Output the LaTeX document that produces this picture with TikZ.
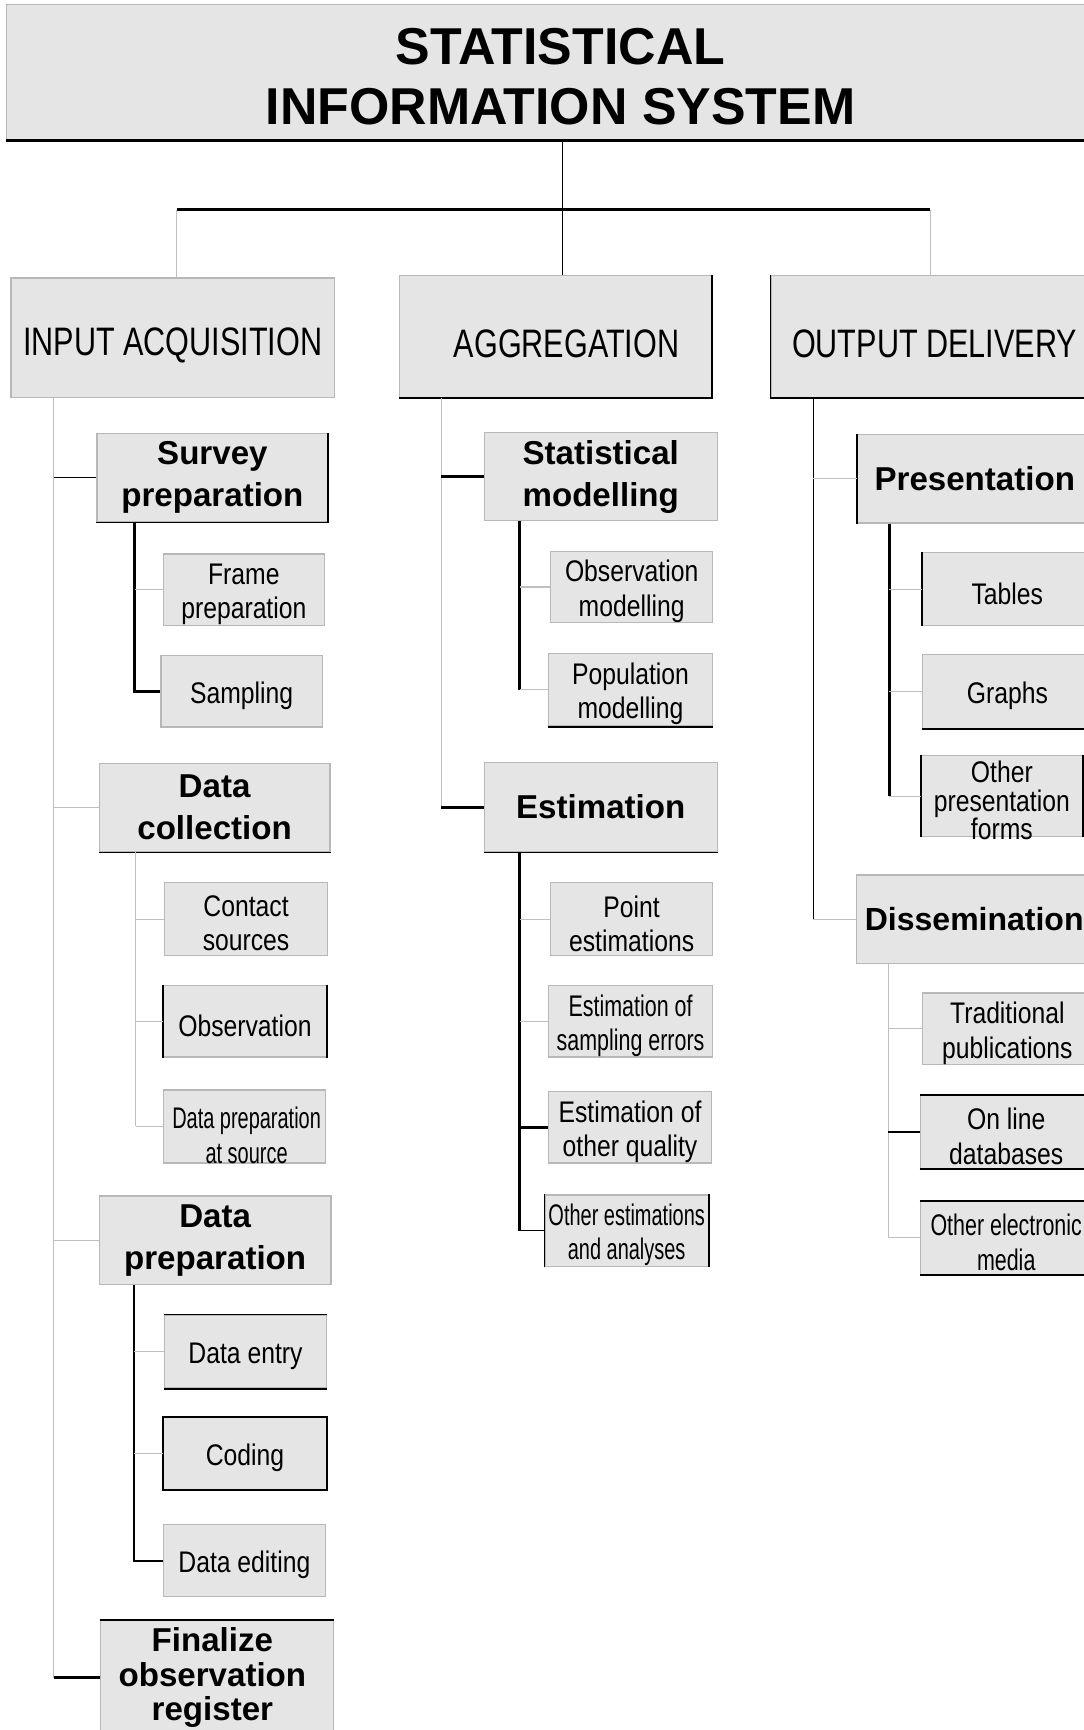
\documentclass[tikz,border=0pt]{standalone}
\usepackage{fontspec}
\setmainfont{Liberation Sans}
\newfontfamily\condA[FakeStretch=0.83]{Liberation Sans}
\newfontfamily\condB[FakeStretch=0.72]{Liberation Sans}
\newfontfamily\condC[FakeStretch=0.67]{Liberation Sans}
\newfontfamily\condH[FakeStretch=0.77]{Liberation Sans}
\usetikzlibrary{fit}
\definecolor{boxfill}{gray}{0.9}
\definecolor{boxline}{gray}{0.72}
\definecolor{linegray}{gray}{0.75}
\tikzset{box/.style={draw=boxline, fill=boxfill, inner sep=0pt, line width=0.6pt},
 edge/.style={draw=black, line width=0.8pt},
 gthin/.style={draw=linegray, line width=0.5pt},
 bthin/.style={draw=black, line width=0.5pt},
 bmed/.style={draw=black, line width=0.9pt},
 bthick/.style={draw=black, line width=1.4pt},
 titletxt/.style={font=\fontsize{23.5}{27}\selectfont\bfseries, align=center, yshift=-2pt},
 headtxt/.style={font=\condH\fontsize{18}{20}\selectfont, yshift=-3.5pt},
 subtxt/.style={font=\fontsize{15}{19}\selectfont\bfseries, align=center},
 leaftxt/.style={font=\condA\fontsize{13.5}{15.5}\selectfont, align=center, yshift=-2pt},
 leafnar/.style={font=\condB\fontsize{13.5}{15.5}\selectfont, align=center, yshift=-2pt},
}

\begin{document}
\begin{tikzpicture}[x=0.5pt,y=-0.5pt]
\useasboundingbox (0,0) rectangle (982,1568);

% title and the three main parts
\node[box, fit={(6,4) (1010,127)}, label={[titletxt]center:{STATISTICAL\\INFORMATION SYSTEM}}] (sis) {};
\node[box, fit={(10,252) (303,360)}, label={[headtxt]center:INPUT ACQUISITION}] (inp) {};
\node[box, fit={(362,250) (645,360)}, label={[headtxt, xshift=5pt]center:AGGREGATION}] (agg) {};
\node[box, fit={(699,250) (995,360)}, label={[headtxt]center:OUTPUT DELIVERY}] (out) {};

% input acquisition
\node[box, fit={(88,393) (297,473)}, label={[subtxt]center:{Survey\\preparation}}] (survey) {};
\node[box, fit={(148,502) (294,567)}, label={[leaftxt]center:{Frame\\preparation}}] (frame) {};
\node[box, fit={(146,594) (292,659)}, label={[leaftxt]center:Sampling}] (sampl) {};
\node[box, fit={(90,692) (299,772)}, label={[subtxt]center:{Data\\collection}}] (dcoll) {};
\node[box, fit={(149,800) (297,866)}, label={[leaftxt]center:{Contact\\sources}}] (contact) {};
\node[box, fit={(148,893) (296,958)}, label={[leaftxt]center:Observation}] (observ) {};
\node[box, fit={(148,988) (295,1054)}, label={[leafnar, font=\condC\fontsize{13.5}{15.5}\selectfont, yshift=-2pt, xshift=1pt]center:{Data preparation\\at source}}] (srcprep) {};
\node[box, fit={(90,1084) (300,1164)}, label={[subtxt]center:{Data\\preparation}}] (dprep) {};
\node[box, fit={(149,1192) (296,1258)}, label={[leaftxt]center:Data entry}] (dentry) {};
\node[box, fit={(148,1285) (296,1350)}, label={[leaftxt]center:Coding}] (coding) {};
\node[box, fit={(148,1382) (295,1447)}, label={[leaftxt]center:Data editing}] (dedit) {};
\node[box, fit={(91,1469) (302,1572)}, label={[subtxt, font=\fontsize{15}{15.5}\selectfont\bfseries, xshift=-2pt]center:{Finalize\\observation\\register}}] (final) {};

% aggregation
\node[box, fit={(439,392) (650,472)}, label={[subtxt]center:{Statistical\\modelling}}] (statmod) {};
\node[box, fit={(499,500) (646,564)}, label={[leaftxt]center:{Observation\\modelling}}] (obsmod) {};
\node[box, fit={(497,592) (646,658)}, label={[leaftxt]center:{Population\\modelling}}] (popmod) {};
\node[box, fit={(439,691) (650,772)}, label={[subtxt]center:Estimation}] (estim) {};
\node[box, fit={(499,800) (646,866)}, label={[leaftxt]center:{Point\\estimations}}] (pointest) {};
\node[box, fit={(497,893) (646,958)}, label={[leafnar]center:{Estimation of\\sampling errors}}] (samperr) {};
\node[box, fit={(497,989) (645,1054)}, label={[leaftxt]center:{Estimation of\\other quality}}] (othqual) {};
\node[box, fit={(494,1083) (642,1148)}, label={[leafnar, font=\condC\fontsize{13.5}{15.5}\selectfont]center:{Other estimations\\and analyses}}] (othest) {};

% output delivery
\node[box, fit={(777,394) (990,474)}, label={[subtxt]center:Presentation}] (present) {};
\node[box, fit={(836,501) (990,567)}, label={[leaftxt]center:Tables}] (tables) {};
\node[box, fit={(836,593) (990,660)}, label={[leaftxt]center:Graphs}] (graphs) {};
\node[box, fit={(835,685) (981,758)}, label={[leaftxt, font=\condA\fontsize{13.5}{13}\selectfont]center:{Other\\presentation\\forms}}] (othpres) {};
\node[box, fit={(776,793) (990,873)}, label={[subtxt, font=\fontsize{14.5}{17}\selectfont\bfseries]center:Dissemination}] (dissem) {};
\node[box, fit={(836,900) (990,965)}, label={[leaftxt]center:{Traditional\\publications}}] (tradpub) {};
\node[box, fit={(834,993) (990,1059)}, label={[leaftxt]center:{On line\\databases}}] (online) {};
\node[box, fit={(834,1089) (990,1155)}, label={[leafnar]center:{Other electronic\\media}}] (othelec) {};

% dark box sides
\draw[edge, line width=1.2pt] (sis.south west) -- (sis.south east);
\draw[edge] (agg.north east) -- (agg.south east) -- (agg.south west);
\draw[edge] (out.north west) -- (out.south west) -- (out.south east);
\draw[edge] (survey.north east) -- (survey.south east) -- (survey.south west);
\draw[edge] (dcoll.south west) -- (dcoll.south east);
\draw[edge] (observ.north west) -- (observ.south west) (observ.north east) -- (observ.south east);
\draw[edge] (dentry.north west) -- (dentry.north east) (dentry.south west) -- (dentry.south east);
\draw[edge] (coding.north west) rectangle (coding.south east);
\draw[edge] (final.north west) -- (final.north east);
\draw[edge] (popmod.south west) -- (popmod.south east);
\draw[edge] (estim.south west) -- (estim.south east);
\draw[edge] (othest.north west) -- (othest.south west) (othest.north east) -- (othest.south east);
\draw[edge] (present.north west) -- (present.south west);
\draw[edge] (tables.north west) -- (tables.south west);
\draw[edge] (graphs.south west) -- (graphs.south east);
\draw[edge] (othpres.north west) -- (othpres.south west) (othpres.north east) -- (othpres.south east);
\draw[edge] (online.north west) -- (online.north east) (online.south west) -- (online.south east);
\draw[edge] (othelec.north west) -- (othelec.north east) (othelec.south west) -- (othelec.south east);

% top connectors
\coordinate (hub) at (510,190);
\coordinate (barL) at (160,190);
\coordinate (barR) at (843,190);
\draw[bthin] (sis.south -| hub) -- (hub |- agg.north);
\draw[bthick] (barL) -- (barR);
\draw[gthin] (barL) -- (barL |- inp.north);
\draw[gthin] (barR) -- (barR |- out.north);

% spines
\coordinate (c1) at (48.5,0);
\coordinate (c1a) at (122,0);
\coordinate (c1b) at (123,0);
\coordinate (c1c) at (121.5,0);
\coordinate (c2) at (400,0);
\coordinate (c2a) at (471,0);
\coordinate (c3) at (737,0);
\coordinate (c3a) at (806,0);
\coordinate (c3b) at (805,0);

\draw[gthin] (inp.south -| c1) -- (final.west -| c1);
\foreach \n/\s in {survey/bthin, dcoll/gthin, dprep/gthin, final/bthick}
  \draw[\s] (\n.west -| c1) -- (\n.west);
\draw[bthick] (survey.south -| c1a) -- (sampl.west -| c1a) -- (sampl.west);
\draw[gthin] (frame.west -| c1a) -- (frame.west);
\draw[gthin] (dcoll.south -| c1b) -- (srcprep.west -| c1b);
\foreach \n in {contact, observ, srcprep}
  \draw[gthin] (\n.west -| c1b) -- (\n.west);
\draw[bmed] (dprep.south -| c1c) -- (dedit.west -| c1c) -- (dedit.west);
\foreach \n in {dentry, coding}
  \draw[gthin] (\n.west -| c1c) -- (\n.west);

\draw[gthin] (agg.south -| c2) -- (estim.west -| c2);
\foreach \n in {statmod, estim}
  \draw[bthick] (\n.west -| c2) -- (\n.west);
\draw[bthick] (statmod.south -| c2a) -- (popmod.west -| c2a);
\foreach \n in {obsmod, popmod}
  \draw[gthin] (\n.west -| c2a) -- (\n.west);
\draw[bthick] (estim.south -| c2a) -- (othest.west -| c2a);
\foreach \n/\s in {pointest/gthin, samperr/gthin, othqual/bthick, othest/bthin}
  \draw[\s] (\n.west -| c2a) -- (\n.west);

\draw[bthin] (out.south -| c3) -- (dissem.west -| c3);
\foreach \n in {present, dissem}
  \draw[gthin] (\n.west -| c3) -- (\n.west);
\draw[bthick] (present.south -| c3a) -- (othpres.west -| c3a);
\foreach \n in {tables, graphs, othpres}
  \draw[gthin] (\n.west -| c3a) -- (\n.west);
\draw[gthin] (dissem.south -| c3b) -- (othelec.west -| c3b);
\foreach \n/\s in {tradpub/gthin, online/bthin, othelec/gthin}
  \draw[\s] (\n.west -| c3b) -- (\n.west);
\end{tikzpicture}
\end{document}
